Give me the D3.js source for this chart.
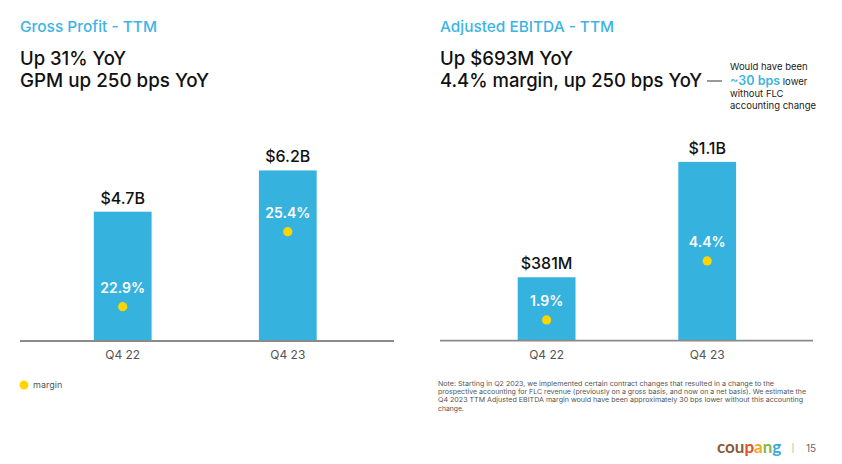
<!DOCTYPE html>
<html>
<head>
<meta charset="utf-8">
<script src="https://cdn.jsdelivr.net/npm/d3@7"></script>
<style>
  html, body { margin: 0; padding: 0; background: #ffffff; }
  svg { display: block; font-family: Inter, "Noto Sans", Arial, sans-serif; }
</style>
</head>
<body>
<svg id="chart" width="842" height="464"></svg>
<script>
// ---- data ----
const categories = ["Q4 22", "Q4 23"];
const grossProfit = [4.7, 6.2];            // $B
const grossProfitLabels = ["$4.7B", "$6.2B"];
const grossMargin = [22.9, 25.4];          // %
const ebitda = [381, 1074];                // $M
const ebitdaLabels = ["$381M", "$1.1B"];
const ebitdaMargin = [1.9, 4.4];           // %
const legendLabel = "margin";

const BAR = "#35b2de", DOT = "#ffd600", BLUE_T = "#3cb4e5";

const svg = d3.select("#chart");

function panel(opts) {
  const g = svg.append("g");
  const x = d3.scaleBand().domain(categories).range(opts.xRange)
    .paddingInner(opts.pIn).paddingOuter(0.32);
  const y = d3.scaleLinear().domain(opts.yDomain).range([opts.base, opts.yTop]);
  const ym = d3.scaleLinear().domain(opts.mDomain).range(opts.mRange);

  g.selectAll("rect.bar").data(opts.values).join("rect")
    .attr("x", (d, i) => x(categories[i]))
    .attr("y", d => y(d))
    .attr("width", x.bandwidth())
    .attr("height", d => y(0) - y(d))
    .attr("fill", BAR);

  // baseline axis
  const axis = d3.axisBottom(x).tickSize(0).tickPadding(11);
  const ax = g.append("g").attr("transform", `translate(0,${opts.base})`).call(axis);
  ax.select(".domain").remove();
  ax.selectAll("text").attr("font-size", 12).attr("fill", "#555").attr("dy", "0.6em")
    .attr("font-family", "Inter, sans-serif");
  g.append("line").attr("x1", opts.axisX[0]).attr("x2", opts.axisX[1])
    .attr("y1", opts.base).attr("y2", opts.base)
    .attr("stroke", "#8a8a8a").attr("stroke-width", 1.8);

  // value labels
  g.selectAll("text.val").data(opts.values).join("text")
    .attr("x", (d, i) => x(categories[i]) + x.bandwidth() / 2)
    .attr("y", d => y(d) - 8)
    .attr("text-anchor", "middle").attr("font-size", 16).attr("font-weight", 500)
    .attr("fill", "#111").text((d, i) => opts.labels[i]);

  // margin dots
  g.selectAll("circle.m").data(opts.margins).join("circle")
    .attr("cx", (d, i) => x(categories[i]) + x.bandwidth() / 2)
    .attr("cy", d => ym(d)).attr("r", 4.6).attr("fill", DOT);
  g.selectAll("text.m").data(opts.margins).join("text")
    .attr("x", (d, i) => x(categories[i]) + x.bandwidth() / 2)
    .attr("y", d => ym(d) - 14)
    .attr("text-anchor", "middle").attr("font-size", 14).attr("font-weight", 600)
    .attr("fill", "#ffffff").text(d => d.toFixed(1) + "%");
}

panel({
  values: grossProfit, labels: grossProfitLabels, margins: grossMargin,
  xRange: [41, 369.5], pIn: 0.65, axisX: [20, 394],
  base: 341, yDomain: [0, 7], yTop: 341 - 7 * 27.51,
  mDomain: [20, 30], mRange: [393.7, 93.7]
});
panel({
  values: ebitda, labels: ebitdaLabels, margins: ebitdaMargin,
  xRange: [466.3, 787.5], pIn: 0.64, axisX: [440, 813],
  base: 340.7, yDomain: [0, 1200], yTop: 340.7 - 1200 * 0.1665,
  mDomain: [0, 6], mRange: [364.8, 223.2]
});

// ---- titles ----
function txt(x, y, s, size, color, weight, anchor) {
  return svg.append("text").attr("x", x).attr("y", y).attr("font-size", size)
    .attr("fill", color).attr("font-weight", weight || 400)
    .attr("text-anchor", anchor || "start").text(s);
}
function fit(t, w) { return t.attr("textLength", w).attr("lengthAdjust", "spacingAndGlyphs"); }
fit(txt(20, 32, "Gross Profit - TTM", 15, BLUE_T, 500), 137);
fit(txt(20, 65, "Up 31% YoY", 19, "#111", 500), 106);
fit(txt(20, 87, "GPM up 250 bps YoY", 19, "#111", 500), 189);
fit(txt(440, 32, "Adjusted EBITDA - TTM", 15, BLUE_T, 500), 174);
fit(txt(440, 65, "Up $693M YoY", 19, "#111", 500), 133);
fit(txt(440, 87, "4.4% margin, up 250 bps YoY", 19, "#111", 500), 262);
svg.append("line").attr("x1", 707).attr("x2", 722).attr("y1", 81).attr("y2", 81)
  .attr("stroke", "#333").attr("stroke-width", 1);
txt(730, 69.5, "Would have been", 9.5, "#222");
const t2 = svg.append("text").attr("x", 730).attr("y", 85).attr("fill", "#222");
t2.append("tspan").attr("font-size", 12.5).attr("font-weight", 600).attr("fill", BLUE_T).text("~30 bps");
t2.append("tspan").attr("font-size", 9.5).text(" lower");
txt(730, 96.5, "without FLC", 9.5, "#222");
txt(730, 108.5, "accounting change", 9.5, "#222");

// ---- legend ----
svg.append("circle").attr("cx", 24).attr("cy", 385).attr("r", 4.5).attr("fill", DOT);
txt(33, 388, legendLabel, 9, "#555");

// ---- note ----
const notes = [
  "Note: Starting in Q2 2023, we implemented certain contract changes that resulted in a change to the",
  "prospective accounting for FLC revenue (previously on a gross basis, and now on a net basis). We estimate the",
  "Q4 2023 TTM Adjusted EBITDA margin would have been approximately 30 bps lower without this accounting",
  "change."
];
const noteW = [336, 368, 365, 0];
const noteY = [386, 394, 402, 411];
notes.forEach((s, i) => {
  const t = txt(438, noteY[i], s, 6.8, "#555");
  if (noteW[i]) fit(t, noteW[i]);
});

// ---- logo & page number ----
const logoCols = ["#8b5a3c", "#8b5a3c", "#8b5a3c", "#e4512b", "#f2a81d", "#84b83f", "#37a9dd"];
const logo = svg.append("text").attr("x", 717).attr("y", 453).attr("font-size", 17)
  .attr("font-weight", 700).attr("font-family", "Lato, 'Open Sans', sans-serif");
"coupang".split("").forEach((c, i) => logo.append("tspan").attr("fill", logoCols[i]).text(c));
svg.append("line").attr("x1", 793).attr("x2", 793).attr("y1", 443).attr("y2", 453)
  .attr("stroke", "#e8b87a").attr("stroke-width", 1);
txt(806, 452, "15", 10, "#666");
</script>
</body>
</html>
